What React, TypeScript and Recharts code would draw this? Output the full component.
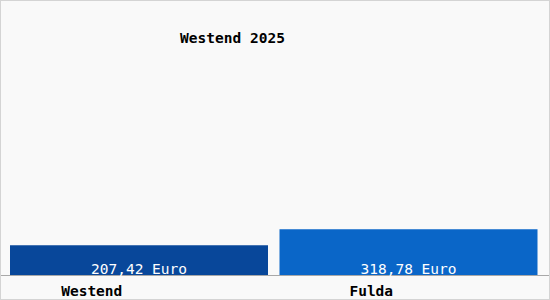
import React from 'react';
import { BarChart, Bar, XAxis, YAxis, Cell, LabelList } from 'recharts';

const categories = ['Westend', 'Fulda'];
const values = [207.42, 318.78];
const valueLabels = ['207,42 Euro', '318,78 Euro'];
const barColors = ['#08479a', '#0a66c8'];
const title = 'Westend 2025';

const data = categories.map((c, i) => ({ name: c, value: values[i], label: valueLabels[i] }));

const FONT = '"DejaVu Sans Mono", monospace';
const tickOffsets = [-47, -37];

const Tick = (props: any) => {
  const { x, y, payload, index } = props;
  return (
    <text x={x + (tickOffsets[index] ?? 0)} y={y + 13} textAnchor="middle" fontFamily={FONT} fontSize={14.5} fontWeight="bold" fill="#000">
      {payload.value}
    </text>
  );
};

const ValueLabel = (props: any) => {
  const { x, y, width, height, index } = props;
  return (
    <text x={x + width / 2} y={y + height - 1.5} textAnchor="middle" fontFamily={FONT} fontSize={14.5} fill="#fff">
      {valueLabels[index]}
    </text>
  );
};

export default function App() {
  return (
    <div style={{ position: 'absolute', left: 0, top: 0, width: 550, height: 300, background: '#f9f9f9', border: '1px solid #d4d4d4', boxSizing: 'border-box' }}>
      <div style={{ position: 'absolute', left: 0, top: 273.5, width: 548, height: 1, background: '#a8a8a8' }} />
      <div style={{ position: 'absolute', left: 0, top: 29, width: 463, textAlign: 'center', fontFamily: FONT, fontSize: 14.5, fontWeight: 'bold', color: '#000' }}>{title}</div>
      <div style={{ position: 'absolute', left: -1, top: -1 }}>
        <BarChart width={550} height={300} data={data} margin={{ top: 45, right: 7, left: 4, bottom: 0 }} barCategoryGap={6}>
          <XAxis dataKey="name" height={25} axisLine={false} tickLine={false} tick={<Tick />} interval={0} />
          <YAxis hide domain={[0, 1600]} />
          <Bar dataKey="value" isAnimationActive={false}>
            {data.map((d, i) => (
              <Cell key={d.name} fill={barColors[i]} />
            ))}
            <LabelList dataKey="label" content={<ValueLabel />} />
          </Bar>
        </BarChart>
      </div>
    </div>
  );
}
